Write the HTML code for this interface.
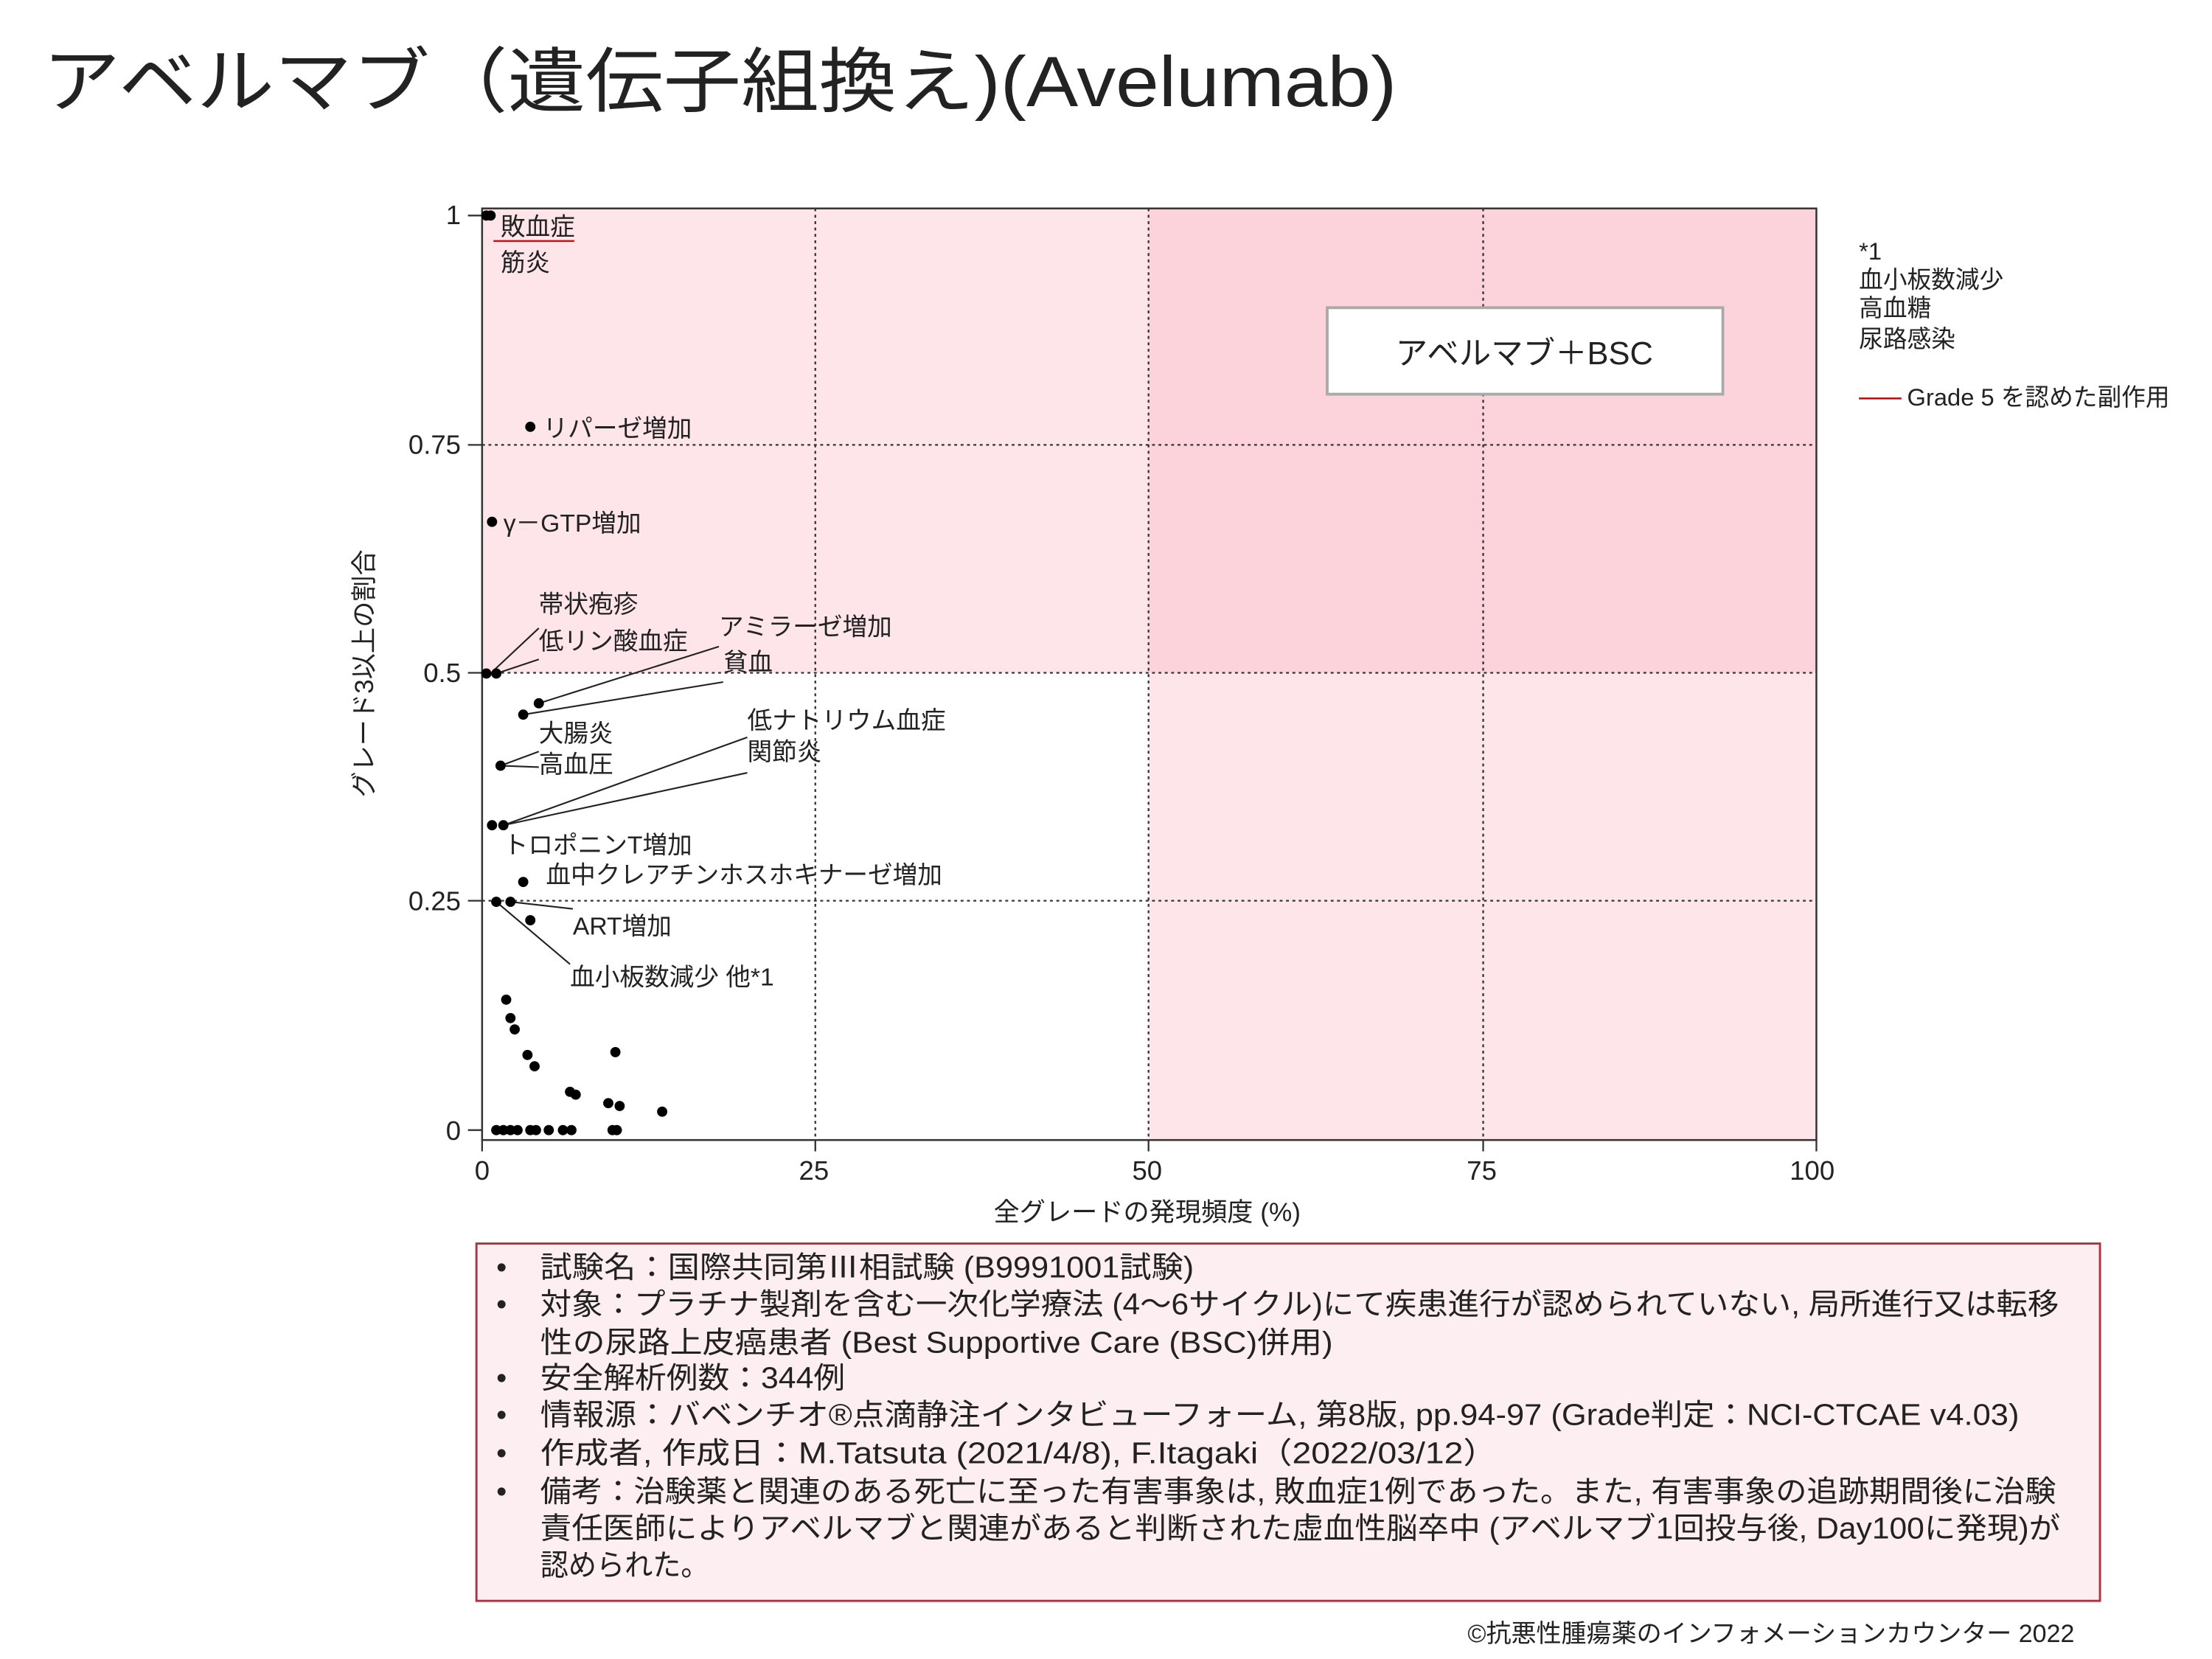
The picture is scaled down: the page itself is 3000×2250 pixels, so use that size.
<!DOCTYPE html>
<html><head><meta charset="utf-8"><style>
html,body{margin:0;padding:0;background:#fff}
svg{display:block}
text{font-family:"Liberation Sans","Noto Sans CJK JP",sans-serif;fill:#222}
</style></head><body>
<svg width="3000" height="2250" viewBox="0 0 1560 1170" xmlns="http://www.w3.org/2000/svg">
<text x="30" y="75" font-size="50" textLength="955" lengthAdjust="spacingAndGlyphs" fill="#111">アベルマブ（遺伝子組換え)(Avelumab)</text>
<rect x="340" y="147" width="941" height="657" fill="#fde5ea"/>
<rect x="340" y="474.5" width="470" height="329.5" fill="#fff"/>
<rect x="810" y="147" width="471" height="327.5" fill="#fcd2db"/>
<g stroke="#333" stroke-width="1.2" stroke-dasharray="2,2.5">
<line x1="575" y1="147" x2="575" y2="804"/><line x1="810" y1="147" x2="810" y2="804"/><line x1="1046" y1="147" x2="1046" y2="804"/>
<line x1="340" y1="313.75" x2="1281" y2="313.75"/><line x1="340" y1="474.5" x2="1281" y2="474.5"/><line x1="340" y1="635.25" x2="1281" y2="635.25"/>
</g>
<rect x="340" y="147" width="941" height="657" fill="none" stroke="#333" stroke-width="1.3"/>
<g stroke="#333" stroke-width="1.2">
<line x1="330" y1="152" x2="340" y2="152"/><line x1="330" y1="313.75" x2="340" y2="313.75"/><line x1="330" y1="474.5" x2="340" y2="474.5"/><line x1="330" y1="635.25" x2="340" y2="635.25"/><line x1="330" y1="797" x2="340" y2="797"/>
<line x1="340" y1="804" x2="340" y2="812"/><line x1="575" y1="804" x2="575" y2="812"/><line x1="810" y1="804" x2="810" y2="812"/><line x1="1046" y1="804" x2="1046" y2="812"/><line x1="1281" y1="804" x2="1281" y2="812"/>
</g>
<g font-size="19" text-anchor="end">
<text x="325" y="158">1</text><text x="325" y="320">0.75</text><text x="325" y="481">0.5</text><text x="325" y="642">0.25</text><text x="325" y="804">0</text>
</g>
<g font-size="19" text-anchor="middle">
<text x="340" y="832">0</text><text x="574" y="832">25</text><text x="809" y="832">50</text><text x="1045" y="832">75</text><text x="1278" y="832">100</text>
<text x="809" y="861" font-size="18.3">全グレードの発現頻度 (%)</text>
<text transform="translate(263,475) rotate(-90)" font-size="18.3">グレード3以上の割合</text>
</g>
<g stroke="#222" stroke-width="1.1">
<line x1="348" y1="473" x2="380" y2="443"/><line x1="350" y1="475" x2="380" y2="465"/>
<line x1="380" y1="496" x2="507" y2="456"/><line x1="369" y1="504" x2="510" y2="481"/>
<line x1="353" y1="540" x2="380" y2="530"/><line x1="353" y1="540" x2="380" y2="541"/>
<line x1="355" y1="582" x2="527" y2="520"/><line x1="355" y1="582" x2="527" y2="545"/>
<line x1="360" y1="636" x2="404" y2="641"/><line x1="350" y1="636" x2="402" y2="680"/>
</g>
<g fill="#000">
<circle cx="343" cy="152" r="3.6"/><circle cx="346" cy="152" r="3.6"/>
<circle cx="374" cy="301" r="3.6"/><circle cx="347" cy="368" r="3.6"/>
<circle cx="343" cy="475" r="3.6"/><circle cx="350" cy="475" r="3.6"/>
<circle cx="380" cy="496" r="3.6"/><circle cx="369" cy="504" r="3.6"/>
<circle cx="353" cy="540" r="3.6"/><circle cx="347" cy="582" r="3.6"/><circle cx="355" cy="582" r="3.6"/>
<circle cx="369" cy="622" r="3.6"/><circle cx="350" cy="636" r="3.6"/><circle cx="360" cy="636" r="3.6"/><circle cx="374" cy="649" r="3.6"/>
<circle cx="357" cy="705" r="3.6"/><circle cx="360" cy="718" r="3.6"/><circle cx="363" cy="726" r="3.6"/><circle cx="372" cy="744" r="3.6"/><circle cx="377" cy="752" r="3.6"/>
<circle cx="402" cy="770" r="3.6"/><circle cx="406" cy="772" r="3.6"/><circle cx="434" cy="742" r="3.6"/><circle cx="429" cy="778" r="3.6"/><circle cx="437" cy="780" r="3.6"/><circle cx="467" cy="784" r="3.6"/>
<circle cx="350" cy="797" r="3.6"/><circle cx="355" cy="797" r="3.6"/><circle cx="360" cy="797" r="3.6"/><circle cx="365" cy="797" r="3.6"/><circle cx="374" cy="797" r="3.6"/><circle cx="378" cy="797" r="3.6"/><circle cx="387" cy="797" r="3.6"/><circle cx="397" cy="797" r="3.6"/><circle cx="403" cy="797" r="3.6"/><circle cx="432" cy="797" r="3.6"/><circle cx="435" cy="797" r="3.6"/>
</g>
<g font-size="17.5">
<text x="353" y="166">敗血症</text>
<text x="353" y="191">筋炎</text>
<text x="383" y="308">リパーゼ増加</text>
<text x="355" y="375">γ－GTP増加</text>
<text x="380" y="432">帯状疱疹</text>
<text x="380" y="458">低リン酸血症</text>
<text x="507" y="448">アミラーゼ増加</text>
<text x="510" y="473">貧血</text>
<text x="380" y="523">大腸炎</text>
<text x="380" y="545">高血圧</text>
<text x="527" y="514">低ナトリウム血症</text>
<text x="527" y="536">関節炎</text>
<text x="355" y="602">トロポニンT増加</text>
<text x="385" y="623">血中クレアチンホスホキナーゼ増加</text>
<text x="404" y="659">ART増加</text>
<text x="402" y="695">血小板数減少 他*1</text>
</g>
<line x1="348" y1="170" x2="405" y2="170" stroke="#d01010" stroke-width="1.3"/>
<rect x="936" y="217" width="279" height="61" fill="#fff" stroke="#aaa" stroke-width="2"/>
<text x="1075" y="257" font-size="22.6" text-anchor="middle">アベルマブ＋BSC</text>
<g font-size="17">
<text x="1311" y="183">*1</text><text x="1311" y="203">血小板数減少</text><text x="1311" y="223">高血糖</text><text x="1311" y="245">尿路感染</text>
<text x="1345" y="286">Grade 5 を認めた副作用</text>
</g>
<line x1="1311" y1="281" x2="1341" y2="281" stroke="#c00" stroke-width="1.3"/>
<rect x="336" y="877" width="1145" height="252" fill="#fdeef1" stroke="#b03040" stroke-width="1.5"/>
<g font-size="21">
<text x="350" y="901">•</text><text x="381" y="901" textLength="461" lengthAdjust="spacingAndGlyphs">試験名：国際共同第Ⅲ相試験 (B9991001試験)</text>
<text x="350" y="927">•</text><text x="381" y="927" textLength="1071" lengthAdjust="spacingAndGlyphs">対象：プラチナ製剤を含む一次化学療法 (4～6サイクル)にて疾患進行が認められていない, 局所進行又は転移</text>
<text x="381" y="954" textLength="559" lengthAdjust="spacingAndGlyphs">性の尿路上皮癌患者 (Best Supportive Care (BSC)併用)</text>
<text x="350" y="979">•</text><text x="381" y="979" textLength="215" lengthAdjust="spacingAndGlyphs">安全解析例数：344例</text>
<text x="350" y="1005">•</text><text x="381" y="1005" textLength="1043" lengthAdjust="spacingAndGlyphs">情報源：バベンチオ®点滴静注インタビューフォーム, 第8版, pp.94-97 (Grade判定：NCI-CTCAE v4.03)</text>
<text x="350" y="1032">•</text><text x="381" y="1032" textLength="675" lengthAdjust="spacingAndGlyphs">作成者, 作成日：M.Tatsuta (2021/4/8),  F.Itagaki（2022/03/12）</text>
<text x="350" y="1059">•</text><text x="381" y="1059" textLength="1069" lengthAdjust="spacingAndGlyphs">備考：治験薬と関連のある死亡に至った有害事象は, 敗血症1例であった。また, 有害事象の追跡期間後に治験</text>
<text x="381" y="1085" textLength="1072" lengthAdjust="spacingAndGlyphs">責任医師によりアベルマブと関連があると判断された虚血性脳卒中 (アベルマブ1回投与後, Day100に発現)が</text>
<text x="381" y="1111" textLength="119" lengthAdjust="spacingAndGlyphs">認められた。</text>
</g>
<text x="1463" y="1158" font-size="17.6" text-anchor="end" textLength="428" lengthAdjust="spacingAndGlyphs">©抗悪性腫瘍薬のインフォメーションカウンター  2022</text>
</svg>
</body></html>
